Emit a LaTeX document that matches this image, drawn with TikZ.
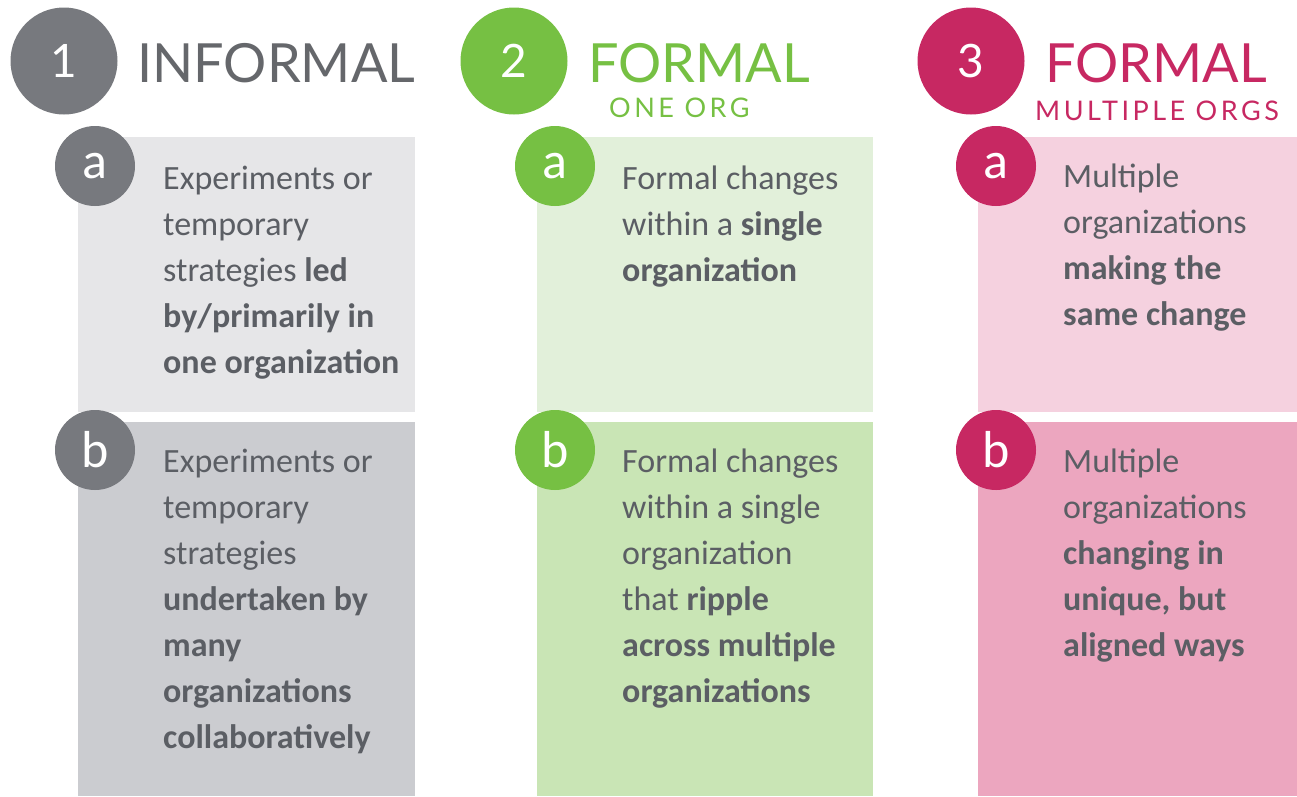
\documentclass[tikz,border=0pt]{standalone}
\usepackage{fontspec}
\setmainfont{Carlito}
\newfontfamily\headfont{Lato}

\definecolor{inkgrey}{HTML}{5B5E64}
\definecolor{greycirc}{HTML}{77797E}
\definecolor{greyA}{HTML}{E6E6E8}
\definecolor{greyB}{HTML}{CBCCD0}
\definecolor{greencirc}{HTML}{76C043}
\definecolor{greenA}{HTML}{E2F0DA}
\definecolor{greenB}{HTML}{C9E5B5}
\definecolor{pinkcirc}{HTML}{C72862}
\definecolor{pinkA}{HTML}{F5D1DF}
\definecolor{pinkB}{HTML}{ECA6BF}

\tikzset{
    bignum/.style={circle, minimum size=107pt, inner sep=0pt, text=white, font=\headfont\fontsize{46}{46}\selectfont},
    letter/.style={circle, minimum size=80pt, inner sep=0pt, text=white, font=\fontsize{52}{52}\selectfont},
    title/.style={anchor=base west, inner sep=0pt, font=\headfont\fontsize{54}{54}\selectfont},
    subtitle/.style={anchor=base west, inner sep=0pt, font=\headfont\fontsize{27}{27}\selectfont\addfontfeatures{LetterSpace=13}},
    panel/.style={anchor=north west, inner sep=0pt, draw=none},
    body/.style={anchor=north west, inner sep=0pt, align=left, text=inkgrey, font=\fontsize{34}{46}\selectfont, execute at begin node=\strut}
}

\begin{document}
\begin{tikzpicture}[x=1pt,y=-1pt]
    \useasboundingbox (0,0) rectangle (1297,796);
    % Define the panels of each column
    \foreach \n/\l/\w/\c in {1/78/337/grey, 2/537/336/green, 3/978/319/pink} {
        \node[panel, fill=\c A, minimum width=\w pt, minimum height=275pt] (p\n a) at (\l,137) {};
        \node[panel, fill=\c B, minimum width=\w pt, minimum height=374pt] (p\n b) at (\l,422) {};
    }
    % Add the headings
    \node[bignum, fill=greycirc] (n1) at (64,61) {1};
    \node[title, text=greycirc!85!black] (t1) at (137,82) {INFORMAL};
    \node[bignum, fill=greencirc] (n2) at (514,61) {2};
    \node[title, text=greencirc] (t2) at (588,82) {FORMAL};
    \node[subtitle, text=greencirc] (s2) at (609,117) {ONE ORG};
    \node[bignum, fill=pinkcirc] (n3) at (971,61) {3};
    \node[title, text=pinkcirc] (t3) at (1045,82) {FORMAL};
    \node[subtitle, text=pinkcirc] (s3) at (1035,120) {MULTIPLE ORGS};
    % Add the letters
    \foreach \n/\x/\c in {1/95/greycirc, 2/555/greencirc, 3/996/pinkcirc} {
        \node[letter, fill=\c] (l\n a) at (\x,166) {a};
        \node[letter, fill=\c] (l\n b) at (\x,450) {b};
    }
    % Add the texts
    \node[body] (x1a) at (163,166) {Experiments or\\temporary\\strategies \textbf{led}\\\textbf{by/primarily in}\\\textbf{one organization}};
    \node[body] (x1b) at (163,449) {Experiments or\\temporary\\strategies\\\textbf{undertaken by}\\\textbf{many}\\\textbf{organizations}\\\textbf{collaboratively}};
    \node[body] (x2a) at (622,166) {Formal changes\\within a \textbf{single}\\\textbf{organization}};
    \node[body] (x2b) at (622,449) {Formal changes\\within a single\\organization\\that \textbf{ripple}\\\textbf{across multiple}\\\textbf{organizations}};
    \node[body] (x3a) at (1063,164) {Multiple\\organizations\\\textbf{making the}\\\textbf{same change}};
    \node[body] (x3b) at (1063,449) {Multiple\\organizations\\\textbf{changing in}\\\textbf{unique, but}\\\textbf{aligned ways}};
\end{tikzpicture}
\end{document}
